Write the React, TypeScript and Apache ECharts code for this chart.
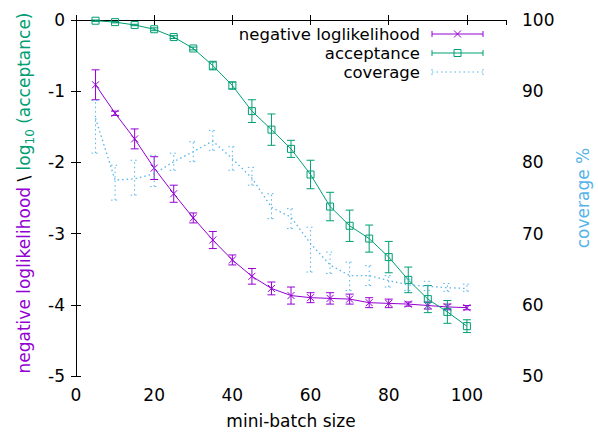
import { useEffect, useRef } from "react";
import * as echarts from "echarts";

// ---- data ----
const batchSizes = [5, 10, 15, 20, 25, 30, 35, 40, 45, 50, 55, 60, 65, 70, 75, 80, 85, 90, 95, 100];
const nllMean = [-0.91, -1.31, -1.67, -2.08, -2.44, -2.78, -3.09, -3.37, -3.6, -3.77, -3.87, -3.9, -3.91, -3.92, -3.97, -3.98, -3.99, -4.01, -4.03, -4.04];
const nllErr = [0.21, 0.03, 0.14, 0.16, 0.12, 0.07, 0.12, 0.07, 0.11, 0.09, 0.12, 0.07, 0.08, 0.07, 0.07, 0.06, 0.03, 0.05, 0.04, 0.03];
const accMean = [-0.01, -0.03, -0.07, -0.13, -0.24, -0.4, -0.64, -0.92, -1.28, -1.54, -1.81, -2.17, -2.62, -2.89, -3.07, -3.33, -3.65, -3.92, -4.1, -4.3];
const accErr = [0.01, 0.01, 0.01, 0.02, 0.02, 0.02, 0.06, 0.05, 0.16, 0.22, 0.12, 0.2, 0.2, 0.22, 0.19, 0.22, 0.18, 0.19, 0.16, 0.09];
const covMean = [86.2, 77.5, 77.7, 78.4, 80.1, 81.5, 83.0, 80.5, 77.8, 73.7, 72.3, 68.6, 65.6, 64.1, 64.1, 63.4, 62.8, 62.6, 62.4, 62.3];
const covLow = [81.3, 74.7, 75.4, 76.6, 78.9, 80.1, 81.7, 78.9, 76.8, 72.1, 70.7, 64.6, 64.4, 62.0, 62.7, 62.5, 62.0, 62.0, 61.9, 61.9];
const covHigh = [88.7, 79.6, 80.3, 81.0, 81.3, 82.9, 84.5, 82.2, 79.3, 75.6, 73.5, 70.9, 67.4, 66.0, 65.5, 64.1, 63.6, 63.3, 63.0, 62.9];
const legendNames = ["negative loglikelihood", "acceptance", "coverage"];

const PURPLE = "#9400D3";
const GREEN = "#009E73";
const BLUE = "#56B4E9";
const FONT = "DejaVu Sans";
const FS = 17;
const LEG_FS = 16.5;
const DOT = [1.5, 3];

function errRender(color: string, marker: string, dotted: boolean) {
  return (_params: any, api: any) => {
    const x = api.value(0);
    const y = api.value(1);
    const lo = api.value(2);
    const hi = api.value(3);
    const c = api.coord([x, y]);
    const l = api.coord([x, lo]);
    const h = api.coord([x, hi]);
    const style: any = { stroke: color, lineWidth: 1, fill: "none" };
    if (dotted) style.lineDash = DOT;
    const children: any[] = [
      { type: "line", shape: { x1: l[0], y1: l[1], x2: h[0], y2: h[1] }, style },
      { type: "line", shape: { x1: l[0] - 4, y1: l[1], x2: l[0] + 4, y2: l[1] }, style },
      { type: "line", shape: { x1: h[0] - 4, y1: h[1], x2: h[0] + 4, y2: h[1] }, style },
    ];
    if (marker === "x") {
      children.push({ type: "line", shape: { x1: c[0] - 3.5, y1: c[1] - 3.5, x2: c[0] + 3.5, y2: c[1] + 3.5 }, style });
      children.push({ type: "line", shape: { x1: c[0] - 3.5, y1: c[1] + 3.5, x2: c[0] + 3.5, y2: c[1] - 3.5 }, style });
    } else if (marker === "square") {
      children.push({ type: "rect", shape: { x: c[0] - 3.5, y: c[1] - 3.5, width: 7, height: 7 }, style });
    }
    return { type: "group", children };
  };
}

function legendItem(i: number, color: string, marker: string, dotted: boolean) {
  const y = 34 + i * 19;
  const x1 = 432;
  const x2 = 483;
  const xm = (x1 + x2) / 2;
  const style: any = { stroke: color, lineWidth: 1, fill: "none" };
  if (dotted) style.lineDash = DOT;
  const els: any[] = [
    {
      type: "text",
      x: 420,
      y,
      style: { text: legendNames[i], fill: "#000", font: `${LEG_FS}px '${FONT}'`, align: "right", verticalAlign: "middle" },
    },
    { type: "line", shape: { x1, y1: y, x2, y2: y }, style },
    { type: "line", shape: { x1, y1: y - 3, x2: x1, y2: y + 3 }, style },
    { type: "line", shape: { x1: x2, y1: y - 3, x2, y2: y + 3 }, style },
  ];
  if (marker === "x") {
    els.push({ type: "line", shape: { x1: xm - 3.5, y1: y - 3.5, x2: xm + 3.5, y2: y + 3.5 }, style });
    els.push({ type: "line", shape: { x1: xm - 3.5, y1: y + 3.5, x2: xm + 3.5, y2: y - 3.5 }, style });
  } else if (marker === "square") {
    els.push({ type: "rect", shape: { x: xm - 3.5, y: y - 3.5, width: 7, height: 7 }, style });
  }
  return els;
}

export default function App() {
  const ref = useRef<HTMLDivElement>(null);
  useEffect(() => {
    if (!ref.current) return;
    const chart = echarts.init(ref.current, undefined, { renderer: "svg" });
    const axisLine = { show: true, lineStyle: { color: "#000", width: 1 } };
    const axisTick = { show: true, inside: true, length: 5, lineStyle: { color: "#000", width: 1 } };
    const label = { color: "#000", fontSize: FS, fontFamily: FONT };
    const nllData = batchSizes.map((x, i) => [x, nllMean[i]]);
    const accData = batchSizes.map((x, i) => [x, accMean[i]]);
    const covData = batchSizes.map((x, i) => [x, covMean[i]]);
    const nllErrData = batchSizes.map((x, i) => [x, nllMean[i], nllMean[i] - nllErr[i], nllMean[i] + nllErr[i]]);
    const accErrData = batchSizes.map((x, i) => [x, accMean[i], accMean[i] - accErr[i], accMean[i] + accErr[i]]);
    const covErrData = batchSizes.map((x, i) => [x, covMean[i], covLow[i], covHigh[i]]);

    chart.setOption({
      animation: false,
      backgroundColor: "#fff",
      textStyle: { fontFamily: FONT },
      grid: { left: 76, right: 92, top: 20, bottom: 56, containLabel: false },
      xAxis: [
        {
          type: "value",
          position: "bottom",
          min: 0,
          max: 110,
          interval: 20,
          axisLine,
          axisTick,
          splitLine: { show: false },
          axisLabel: { ...label, margin: 10, showMaxLabel: false },
        },
        {
          type: "value",
          position: "top",
          min: 0,
          max: 110,
          interval: 20,
          axisLine,
          axisTick,
          splitLine: { show: false },
          axisLabel: { show: false },
        },
      ],
      yAxis: [
        {
          type: "value",
          position: "left",
          min: -5,
          max: 0,
          interval: 1,
          axisLine,
          axisTick,
          splitLine: { show: false },
          axisLabel: { ...label, margin: 11 },
        },
        {
          type: "value",
          position: "right",
          min: 50,
          max: 100,
          interval: 10,
          axisLine,
          axisTick,
          splitLine: { show: false },
          axisLabel: { ...label, margin: 16 },
        },
      ],
      series: [
        {
          type: "line",
          name: legendNames[0],
          data: nllData,
          symbol: "none",
          lineStyle: { color: PURPLE, width: 1 },
          z: 3,
        },
        {
          type: "custom",
          data: nllErrData,
          encode: { x: 0, y: [1, 2, 3] },
          renderItem: errRender(PURPLE, "x", false),
          z: 3,
        },
        {
          type: "line",
          name: legendNames[1],
          data: accData,
          symbol: "none",
          lineStyle: { color: GREEN, width: 1 },
          z: 4,
        },
        {
          type: "custom",
          data: accErrData,
          encode: { x: 0, y: [1, 2, 3] },
          renderItem: errRender(GREEN, "square", false),
          z: 4,
        },
        {
          type: "line",
          name: legendNames[2],
          yAxisIndex: 1,
          data: covData,
          symbol: "none",
          lineStyle: { color: BLUE, width: 1.3, type: DOT },
          z: 5,
        },
        {
          type: "custom",
          yAxisIndex: 1,
          data: covErrData,
          encode: { x: 0, y: [1, 2, 3] },
          renderItem: errRender(BLUE, "none", true),
          z: 5,
        },
      ],
      graphic: [
        ...legendItem(0, PURPLE, "x", false),
        ...legendItem(1, GREEN, "square", false),
        ...legendItem(2, BLUE, "none", true),
        {
          type: "text",
          x: 291,
          y: 421,
          style: { text: "mini-batch size", fill: "#000", font: `${FS}px '${FONT}'`, align: "center", verticalAlign: "middle" },
        },
        {
          type: "text",
          x: 24,
          y: 193,
          rotation: Math.PI / 2,
          style: {
            text: "{p|negative loglikelihood}{k| \\ }{g|log}{s|10}{g| (acceptance)}",
            align: "center",
            verticalAlign: "middle",
            rich: {
              p: { fill: PURPLE, fontSize: FS, fontFamily: FONT, lineHeight: 23 },
              k: { fill: "#000", fontSize: FS, fontFamily: FONT, lineHeight: 23 },
              g: { fill: GREEN, fontSize: FS, fontFamily: FONT, lineHeight: 23 },
              s: { fill: GREEN, fontSize: 12, fontFamily: FONT, verticalAlign: "bottom", lineHeight: 14 },
            },
          },
        },
        {
          type: "text",
          x: 583,
          y: 198,
          rotation: Math.PI / 2,
          style: { text: "coverage %", fill: BLUE, font: `${FS}px '${FONT}'`, align: "center", verticalAlign: "middle" },
        },
      ],
    });
    return () => chart.dispose();
  }, []);
  return <div ref={ref} style={{ position: "fixed", left: 0, top: 0, width: 598, height: 432 }} />;
}
